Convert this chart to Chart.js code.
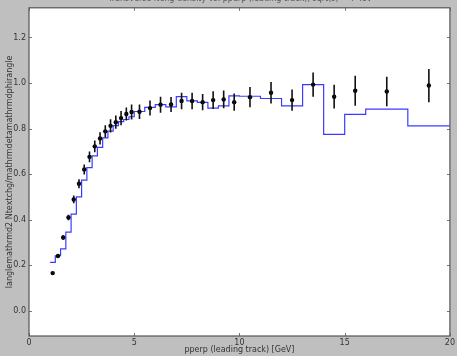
<!DOCTYPE html>
<html>
<head>
<meta charset="utf-8">
<script src="https://cdn.jsdelivr.net/npm/chart.js@4"></script>
<style>
  html, body { margin: 0; padding: 0; background: #bfbfbf; }
  #wrap { width: 457px; height: 356px; }
</style>
</head>
<body>
<div id="wrap"><canvas id="myChart" width="457" height="356"></canvas></div>
<script>
'use strict';
// data points (measured)
let dataX = [1.125, 1.375, 1.625, 1.875, 2.125, 2.375, 2.625, 2.875, 3.125, 3.375, 3.625, 3.875,
    4.125, 4.375, 4.625, 4.875, 5.25, 5.75, 6.25, 6.75, 7.25, 7.75, 8.25, 8.75, 9.25, 9.75,
    10.5, 11.5, 12.5, 13.5, 14.5, 15.5, 17, 19]
let dataY = [0.166, 0.241, 0.322, 0.41, 0.489, 0.558, 0.621, 0.676, 0.722, 0.757, 0.788, 0.812,
    0.828, 0.846, 0.864, 0.873, 0.874, 0.89, 0.905, 0.906, 0.921, 0.921, 0.916, 0.925, 0.928, 0.916,
    0.938, 0.957, 0.925, 0.993, 0.94, 0.966, 0.963, 0.989]
let dataErr = [0.005, 0.008, 0.01, 0.012, 0.017, 0.02, 0.022, 0.024, 0.026, 0.027, 0.027, 0.029,
    0.029, 0.031, 0.029, 0.033, 0.032, 0.033, 0.035, 0.033, 0.036, 0.036, 0.036, 0.039, 0.039, 0.038,
    0.044, 0.047, 0.047, 0.053, 0.052, 0.066, 0.065, 0.073]

// MC histogram (bin edges + values)
let histEdges = [1, 1.25, 1.5, 1.75, 2, 2.25, 2.5, 2.75, 3, 3.25, 3.5, 3.75, 4, 4.25, 4.5, 4.75,
    5, 5.5, 6, 6.5, 7, 7.5, 8, 8.5, 9, 9.5, 10, 11, 12, 13, 14, 15, 16, 18, 20]
let histVals = [0.213, 0.242, 0.272, 0.346, 0.425, 0.5, 0.574, 0.629, 0.68, 0.718, 0.759, 0.789,
    0.813, 0.831, 0.84, 0.852, 0.875, 0.893, 0.905, 0.895, 0.94, 0.922, 0.915, 0.89, 0.9, 0.944,
    0.942, 0.932, 0.9, 0.993, 0.775, 0.862, 0.885, 0.812]

let xTicks = [0, 5, 10, 15, 20]
let yTicks = [0, 0.2, 0.4, 0.6, 0.8, 1.0, 1.2]

let titleText = 'Transverse Nchg density vs. pperp (leading track), sqrt(s) = 7 TeV'
let xTitle = 'pperp (leading track) [GeV]'
let yTitle = 'langlemathrmd2 Ntextchg/mathrmdetamathrmdphirangle'

// step line: first point at low edge, then each bin's value at its high edge
let histPoints = [{ x: histEdges[0], y: histVals[0] }]
for (let i = 0; i < histVals.length; i++) {
    histPoints.push({ x: histEdges[i + 1], y: histVals[i] })
}

let points = []
for (let i = 0; i < dataX.length; i++) {
    points.push({ x: dataX[i], y: dataY[i] })
}

let fontFam = 'DejaVu Sans'

let bgPlugin = {
    id: 'bg',
    beforeDraw(chart) {
        let c = chart.ctx, a = chart.chartArea
        c.save()
        c.fillStyle = '#bfbfbf'
        c.fillRect(0, 0, chart.width, chart.height)
        c.fillStyle = '#ffffff'
        c.fillRect(a.left, a.top, a.right - a.left, a.bottom - a.top)
        c.restore()
    },
    afterDraw(chart) {
        let c = chart.ctx, a = chart.chartArea
        let xs = chart.scales.x, ys = chart.scales.y
        c.save()
        // inner ticks like matplotlib
        c.strokeStyle = '#777777'
        c.lineWidth = 1
        c.beginPath()
        xTicks.forEach(v => {
            let px = Math.round(xs.getPixelForValue(v)) + 0.5
            c.moveTo(px, a.bottom); c.lineTo(px, a.bottom - 3)
            c.moveTo(px, a.top); c.lineTo(px, a.top + 3)
        })
        yTicks.forEach(v => {
            let py = Math.round(ys.getPixelForValue(v)) + 0.5
            c.moveTo(a.left, py); c.lineTo(a.left + 3, py)
            c.moveTo(a.right, py); c.lineTo(a.right - 3, py)
        })
        c.stroke()
        // frame
        c.strokeStyle = '#555555'
        c.lineWidth = 1.2
        c.strokeRect(a.left, a.top, a.right - a.left, a.bottom - a.top)
        // title, cut off at top edge like the reference
        c.fillStyle = '#555555'
        c.font = '8px "' + fontFam + '"'
        c.textAlign = 'center'
        c.textBaseline = 'middle'
        c.fillText(titleText, 240, -1)
        c.restore()
    }
}

let errPlugin = {
    id: 'errbars',
    afterDatasetsDraw(chart) {
        let c = chart.ctx
        let xs = chart.scales.x, ys = chart.scales.y
        c.save()
        c.strokeStyle = '#111111'
        c.lineWidth = 1.6
        c.beginPath()
        for (let i = 0; i < dataX.length; i++) {
            let px = xs.getPixelForValue(dataX[i])
            c.moveTo(px, ys.getPixelForValue(dataY[i] - dataErr[i]))
            c.lineTo(px, ys.getPixelForValue(dataY[i] + dataErr[i]))
        }
        c.stroke()
        c.restore()
    }
}

let ctx = document.getElementById('myChart').getContext('2d')
let myChart = new Chart(ctx, {
    type: 'scatter',
    data: {
        datasets: [{
            label: 'MC',
            type: 'line',
            data: histPoints,
            stepped: 'after',
            borderColor: '#3b3bff',
            borderWidth: 1.2,
            pointRadius: 0,
            fill: false,
            order: 2
        }, {
            label: 'Data',
            data: points,
            backgroundColor: '#000000',
            borderColor: '#000000',
            pointRadius: 2.2,
            borderWidth: 0,
            order: 1
        }]
    },
    options: {
        responsive: false,
        animation: false,
        layout: { padding: { top: 3, right: 6, left: 0, bottom: 1 } },
        plugins: {
            legend: { display: false },
            tooltip: { enabled: false }
        },
        scales: {
            x: {
                type: 'linear',
                min: 0,
                max: 20,
                afterBuildTicks: s => { s.ticks = xTicks.map(v => ({ value: v })) },
                afterFit: s => { s.height = 19 },
                grid: { display: false, drawTicks: false },
                border: { display: false },
                ticks: {
                    padding: 2,
                    color: '#333333',
                    font: { family: fontFam, size: 8 },
                    callback: v => String(v)
                },
                title: {
                    display: true,
                    text: xTitle,
                    color: '#333333',
                    padding: 0,
                    font: { family: fontFam, size: 8 }
                }
            },
            y: {
                type: 'linear',
                min: -0.11,
                max: 1.33,
                afterBuildTicks: s => { s.ticks = yTicks.map(v => ({ value: v })) },
                afterFit: s => { s.width = 29 },
                grid: { display: false, drawTicks: false },
                border: { display: false },
                ticks: {
                    padding: 3,
                    color: '#333333',
                    font: { family: fontFam, size: 8 },
                    callback: v => Number(v).toFixed(1)
                },
                title: {
                    display: true,
                    text: yTitle,
                    color: '#333333',
                    padding: { top: 5, bottom: 0 },
                    font: { family: fontFam, size: 8 }
                }
            }
        }
    },
    plugins: [bgPlugin, errPlugin]
})
</script>
</body>
</html>
